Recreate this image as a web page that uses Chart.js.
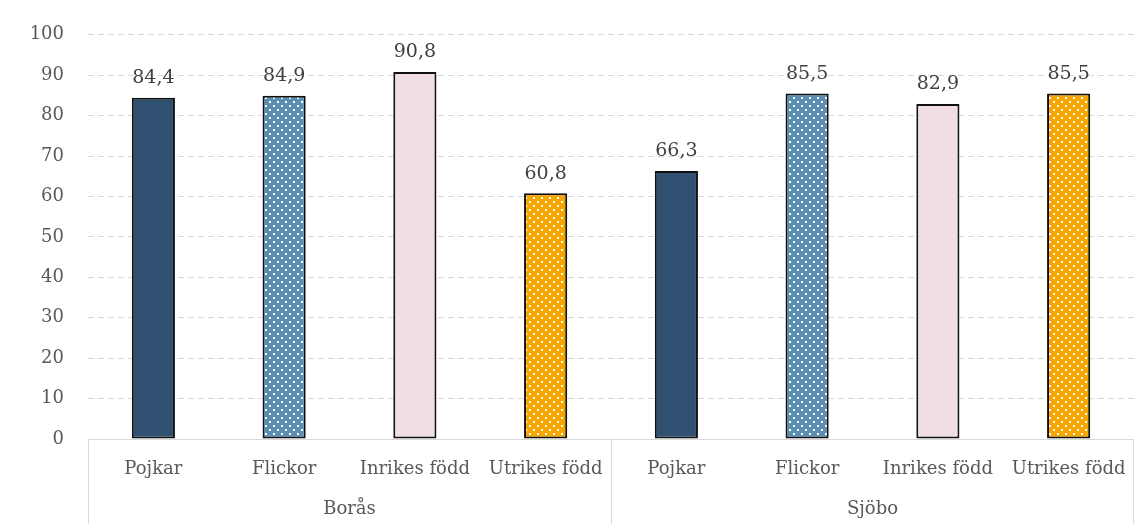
<!DOCTYPE html>
<html>
<head>
<meta charset="utf-8">
<script src="https://cdn.jsdelivr.net/npm/chart.js@4.4.1/dist/chart.umd.min.js"></script>
<style>
    html, body { margin: 0; padding: 0; background: #ffffff; }
    #wrap { width: 1134px; height: 524px; position: relative; }
</style>
</head>
<body>
<div id="wrap"><canvas id="barChart"></canvas></div>
<script>
// Data
const groups = ['Borås', 'Sjöbo'];
const categories = ['Pojkar', 'Flickor', 'Inrikes född', 'Utrikes född'];
const borasValues = [84.4, 84.9, 90.8, 60.8];
const sjoboValues = [66.3, 85.5, 82.9, 85.5];
const yTicks = [0, 10, 20, 30, 40, 50, 60, 70, 80, 90, 100];

const FONT = '"DejaVu Serif", "Liberation Serif", serif';
const TEXT_COLOR = '#595959';
const LINE_COLOR = '#d9d9d9';

function dotPattern(base) {
    const tile = document.createElement('canvas');
    tile.width = 8;
    tile.height = 8;
    const c = tile.getContext('2d');
    c.fillStyle = base;
    c.fillRect(0, 0, 8, 8);
    c.fillStyle = '#ffffff';
    c.fillRect(1, 1, 2, 2);
    c.fillRect(5, 5, 2, 2);
    return c.createPattern(tile, 'repeat');
}

const fills = [
    '#2f5070',
    dotPattern('#5a8fb2'),
    '#f0dde6',
    dotPattern('#f7a600')
];

const labels = [];
const values = [];
const colors = [];
groups.forEach((g, gi) => {
    const vals = gi === 0 ? borasValues : sjoboValues;
    categories.forEach((cat, ci) => {
        labels.push(cat);
        values.push(vals[ci]);
        colors.push(fills[ci]);
    });
});

// Value labels, category / group labels and the separators under the axis
const decorations = {
    id: 'decorations',
    afterDatasetsDraw(chart) {
        const ctx = chart.ctx;
        const area = chart.chartArea;
        const x = chart.scales.x;
        const meta = chart.getDatasetMeta(0);

        ctx.save();
        ctx.font = '19px ' + FONT;
        ctx.fillStyle = '#404040';
        ctx.textAlign = 'center';
        ctx.textBaseline = 'bottom';
        meta.data.forEach((bar, i) => {
            ctx.fillText(values[i].toFixed(1).replace('.', ','), bar.x, bar.y - 10);
        });

        // zero line
        ctx.strokeStyle = LINE_COLOR;
        ctx.lineWidth = 1;
        ctx.beginPath();
        ctx.moveTo(area.left, area.bottom + 0.5);
        ctx.lineTo(area.right, area.bottom + 0.5);
        ctx.stroke();

        // group separators
        const step = (area.right - area.left) / labels.length;
        for (let g = 0; g <= groups.length; g++) {
            let sx = Math.round(area.left + g * categories.length * step) + 0.5;
            if (sx > chart.width) sx = chart.width - 0.5;
            ctx.beginPath();
            ctx.moveTo(sx, area.bottom);
            ctx.lineTo(sx, chart.height);
            ctx.stroke();
        }

        ctx.fillStyle = TEXT_COLOR;
        ctx.font = '18px ' + FONT;
        ctx.textBaseline = 'middle';
        labels.forEach((lab, i) => {
            ctx.fillText(lab, x.getPixelForValue(i), area.bottom + 30);
        });
        groups.forEach((g, gi) => {
            const first = x.getPixelForValue(gi * categories.length);
            const last = x.getPixelForValue((gi + 1) * categories.length - 1);
            ctx.fillText(g, (first + last) / 2, area.bottom + 70);
        });
        ctx.restore();
    }
};

new Chart(document.getElementById('barChart'), {
    type: 'bar',
    data: {
        labels: labels,
        datasets: [{
            data: values,
            backgroundColor: colors,
            borderColor: '#111111',
            borderWidth: 2,
            borderSkipped: false,
            categoryPercentage: 1,
            barPercentage: 0.33
        }]
    },
    options: {
        responsive: true,
        maintainAspectRatio: false,
        animation: false,
        layout: { padding: { top: 20, right: 0, left: 0, bottom: 0 } },
        plugins: {
            legend: { display: false },
            tooltip: { enabled: false }
        },
        scales: {
            x: {
                grid: { display: false },
                border: { display: false },
                ticks: { display: false },
                afterFit(scale) { scale.height = 85; }
            },
            y: {
                min: 0,
                max: 100,
                afterBuildTicks(scale) {
                    scale.ticks = yTicks.map(v => ({ value: v }));
                },
                afterFit(scale) { scale.width = 88; },
                grid: {
                    drawTicks: false,
                    color: ctx => ctx.tick && ctx.tick.value === 0 ? 'rgba(0,0,0,0)' : LINE_COLOR,
                    lineWidth: 1
                },
                border: { display: false, dash: [6, 4] },
                ticks: {
                    padding: 24,
                    color: TEXT_COLOR,
                    font: { family: FONT, size: 18 }
                }
            }
        }
    },
    plugins: [decorations]
});
</script>
</body>
</html>
